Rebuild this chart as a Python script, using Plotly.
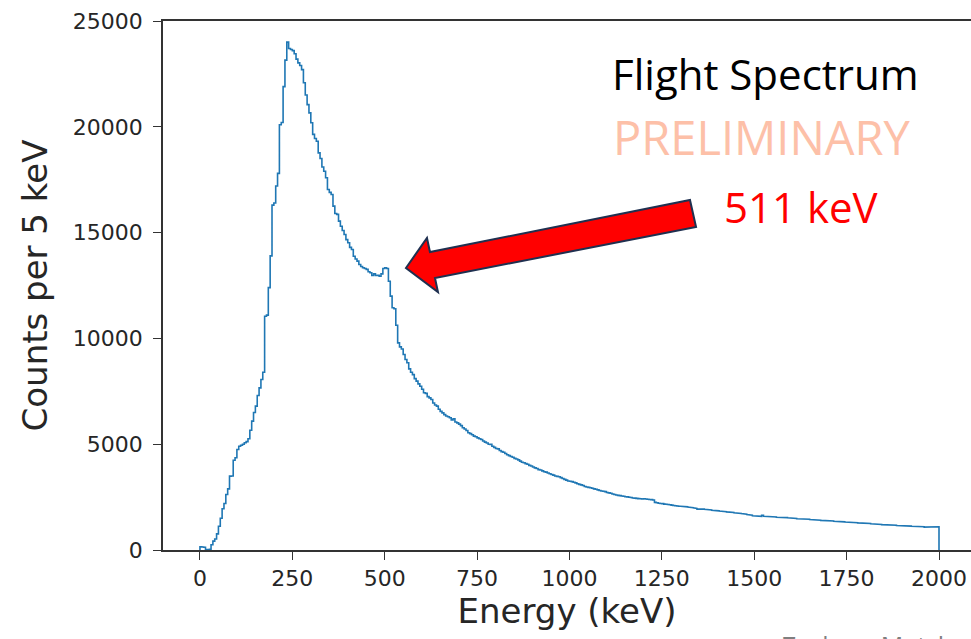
import plotly.graph_objects as go

# ---------------- data ----------------
bin_width_kev = 5
energy_min_kev = 0
counts = [
    # 0-50
    150, 140, 130, 20, 10, 30, 250, 420, 520, 760,
    # 50-100
    1120, 1500, 1950, 2200, 2620, 2890, 3490, 3500, 4240, 4360,
    # 100-150
    4750, 4900, 4950, 5000, 5070, 5120, 5260, 5660, 6090, 6500,
    # 150-200
    6800, 7300, 7660, 8060, 8400, 11050, 11100, 12400, 13900, 16300,
    # 200-250
    16400, 17200, 17800, 20100, 20200, 21900, 23150, 24000, 23700, 23650,
    # 250-300
    23600, 23450, 23200, 23020, 22900, 22700, 22080, 21500, 21050, 20660,
    # 300-350
    20190, 19640, 19450, 19320, 18770, 18500, 18100, 17900, 17590, 17040,
    # 350-400
    16900, 16800, 16250, 15900, 15860, 15540, 15300, 15100, 14910, 14670,
    # 400-450
    14520, 14300, 14200, 13880, 13750, 13650, 13490, 13400, 13340, 13300,
    # 450-500
    13260, 13150, 13100, 12970, 13050, 12970, 12980, 12940, 13050, 13300,
    # 500-550
    13340, 13300, 12700, 12000, 11450, 11400, 10620, 9790, 9600, 9500,
    # 550-600
    9240, 9000, 8850, 8560, 8400, 8290, 8100, 7980, 7850, 7740,
    # 600-650
    7600, 7430, 7400, 7250, 7190, 7110, 6950, 6850, 6800, 6650,
    # 650-700
    6550, 6480, 6400, 6330, 6300, 6250, 6150, 6200, 6050, 6010,
    # 700-750
    5950, 5880, 5780, 5720, 5650, 5540, 5500, 5450, 5380, 5350,
    # 750-800
    5300, 5260, 5220, 5150, 5100, 5060, 5000, 4990, 4900, 4850,
    # 800-850
    4800, 4780, 4700, 4650, 4620, 4560, 4500, 4460, 4420, 4380,
    # 850-900
    4330, 4300, 4260, 4200, 4150, 4120, 4080, 4050, 4000, 3970,
    # 900-950
    3920, 3880, 3850, 3800, 3780, 3740, 3700, 3680, 3640, 3600,
    # 950-1000
    3570, 3540, 3500, 3480, 3460, 3420, 3380, 3340, 3300, 3260,
    # 1000-1050
    3250, 3230, 3200, 3170, 3130, 3100, 3080, 3050, 3000, 2980,
    # 1050-1100
    2960, 2940, 2920, 2890, 2870, 2840, 2810, 2790, 2780, 2760,
    # 1100-1150
    2720, 2700, 2680, 2650, 2620, 2600, 2580, 2570, 2550, 2540,
    # 1150-1200
    2520, 2510, 2490, 2480, 2460, 2450, 2440, 2430, 2420, 2410,
    # 1200-1250
    2420, 2410, 2400, 2390, 2380, 2360, 2250, 2230, 2210, 2200,
    # 1250-1300
    2190, 2170, 2160, 2150, 2140, 2120, 2100, 2090, 2080, 2070,
    # 1300-1350
    2070, 2060, 2050, 2040, 2030, 2020, 2000, 1990, 1960, 1930,
    # 1350-1400
    1960, 1950, 1940, 1920, 1910, 1900, 1890, 1880, 1870, 1860,
    # 1400-1450
    1850, 1840, 1830, 1820, 1810, 1800, 1790, 1780, 1770, 1760,
    # 1450-1500
    1750, 1740, 1730, 1720, 1700, 1690, 1670, 1650, 1640, 1620,
    # 1500-1550
    1610, 1600, 1600, 1590, 1640, 1590, 1580, 1580, 1570, 1570,
    # 1550-1600
    1560, 1560, 1550, 1560, 1540, 1540, 1530, 1530, 1520, 1510,
    # 1600-1650
    1500, 1500, 1490, 1480, 1480, 1470, 1460, 1460, 1450, 1450,
    # 1650-1700
    1440, 1440, 1430, 1420, 1420, 1410, 1400, 1400, 1390, 1380,
    # 1700-1750
    1380, 1370, 1370, 1360, 1350, 1350, 1340, 1340, 1330, 1320,
    # 1750-1800
    1320, 1310, 1310, 1300, 1300, 1290, 1280, 1280, 1270, 1260,
    # 1800-1850
    1260, 1250, 1250, 1240, 1230, 1230, 1220, 1210, 1210, 1200,
    # 1850-1900
    1200, 1190, 1190, 1180, 1180, 1170, 1170, 1160, 1160, 1150,
    # 1900-1950
    1150, 1140, 1140, 1130, 1130, 1120, 1120, 1120, 1110, 1110,
    # 1950-2000
    1110, 1100, 1080, 1090, 1110, 1100, 1080, 1110, 1100, 1100,
]
x_ticks = [0, 250, 500, 750, 1000, 1250, 1500, 1750, 2000]
y_ticks = [0, 5000, 10000, 15000, 20000, 25000]
x_title = "Energy (keV)"
y_title = "Counts per 5 keV"
label_title = "Flight Spectrum"
label_prelim = "PRELIMINARY"
label_peak = "511 keV"
label_author = "Zachary Metzler"

# ---------------- step outline (matplotlib histtype="step") ----------------
edges = [energy_min_kev + i * bin_width_kev for i in range(len(counts) + 1)]
xs, ys = [edges[0]], [0]
for i, c in enumerate(counts):
    xs += [edges[i], edges[i + 1]]
    ys += [c, c]
xs.append(edges[-1])
ys.append(0)

W, H = 971, 639
L, R, T, B = 163, 0, 21, 89
pw, ph = W - L - R, H - T - B


def px(xp, yp):
    """pixel position -> paper coordinates"""
    return (xp - L) / pw, (H - B - yp) / ph


fig = go.Figure()
fig.add_trace(go.Scatter(x=xs, y=ys, mode="lines",
                         line=dict(color="#1f77b4", width=1.6),
                         hoverinfo="skip", showlegend=False))

axis_font = dict(family="DejaVu Sans", size=22, color="#262626")
fig.update_layout(
    width=W, height=H,
    margin=dict(l=L, r=R, t=T, b=B),
    paper_bgcolor="white", plot_bgcolor="white",
    xaxis=dict(range=[-100, 2086.6], tickvals=x_ticks,
               ticktext=[str(v) for v in x_ticks], ticks="outside",
               ticklen=8, tickwidth=1.4, tickcolor="#333333",
               showline=True, linecolor="#333333", linewidth=1.5, mirror=True,
               showgrid=False, zeroline=False, tickfont=axis_font,
               title=dict(text=x_title, font=dict(family="DejaVu Sans", size=34, color="#262626"),
                          standoff=6)),
    yaxis=dict(range=[0, 25000], tickvals=y_ticks,
               ticktext=[str(v) for v in y_ticks], ticks="outside",
               ticklen=8, tickwidth=1.4, tickcolor="#333333",
               showline=True, linecolor="#333333", linewidth=1.5,
               showgrid=False, zeroline=False, tickfont=axis_font,
               ticklabelstandoff=6,
               title=dict(text=y_title, font=dict(family="DejaVu Sans", size=34, color="#262626"),
                          standoff=15)),
)

# block arrow pointing at the 511 keV bump
arrow_px = [(406, 268), (427, 238), (430, 252), (690, 200),
            (696, 227), (435, 278), (438, 292)]
pts = [px(a, b) for a, b in arrow_px]
path = "M " + " L ".join(f"{a:.4f},{b:.4f}" for a, b in pts) + " Z"
fig.add_shape(type="path", path=path, xref="paper", yref="paper",
              fillcolor="#ff0000", line=dict(color="#1f3050", width=2))


def note(text, xp, yp, size, color, family="Open Sans"):
    ax, ay = px(xp, yp)
    fig.add_annotation(text=text, x=ax, y=ay, xref="paper", yref="paper",
                       xanchor="left", yanchor="middle", showarrow=False,
                       font=dict(family=family, size=size, color=color))


note(label_title, 610, 73, 42, "#000000")
note(label_prelim, 611, 137, 47, "#fdc0a8")
note(label_peak, 722, 206, 42, "#ff0000")
note(label_author, 780, 645, 25, "#7f7f7f")

fig.write_html("out.html")
